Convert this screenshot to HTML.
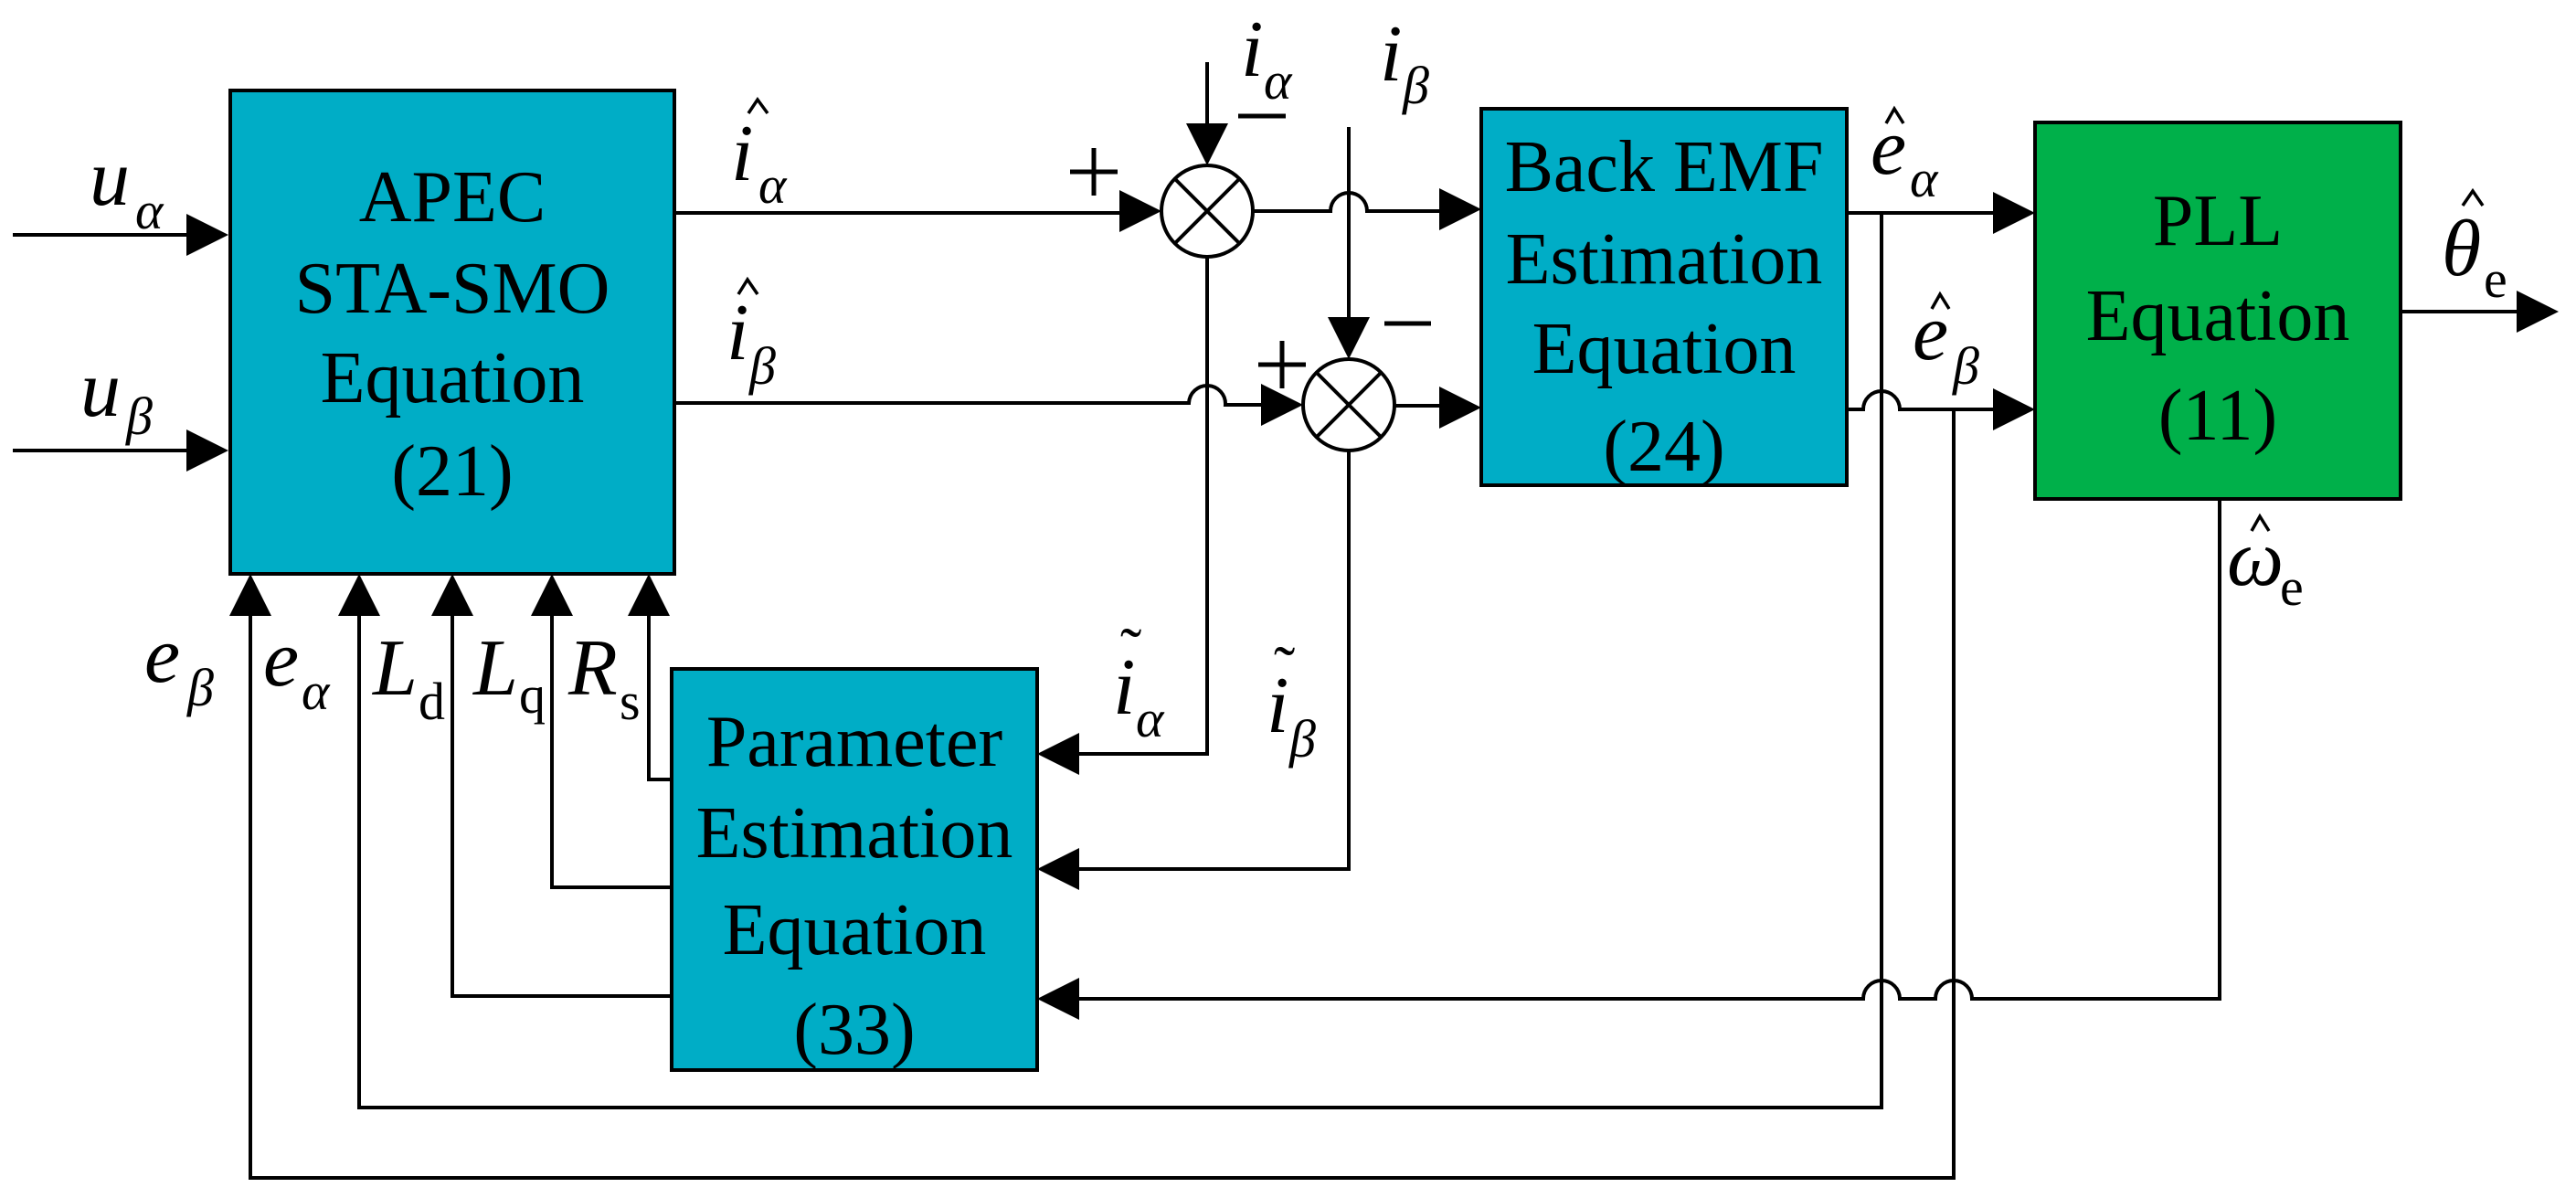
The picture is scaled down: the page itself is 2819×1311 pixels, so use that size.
<!DOCTYPE html>
<html><head><meta charset="utf-8"><style>
html,body{margin:0;padding:0;background:#fff;}
svg{display:block;}
text{font-family:"Liberation Serif",serif;fill:#000;}
.bt{font-size:80px;text-anchor:middle;}
.it{font-style:italic;font-size:88px;}
.sb{font-style:italic;font-size:58px;}
.sr{font-size:58px;}
.ac{font-size:70px;}
</style></head><body>
<svg width="2819" height="1311" viewBox="0 0 2819 1311" xmlns="http://www.w3.org/2000/svg">
<g stroke="#000" stroke-width="4" fill="none">
<rect x="252" y="99" width="486" height="529" fill="#00adc6"/>
<rect x="1621" y="119" width="400" height="412" fill="#00adc6"/>
<rect x="2227" y="134" width="400" height="412" fill="#00b04a"/>
<rect x="735" y="732" width="400" height="439" fill="#00adc6"/>
<path d="M14 257H205"/><path d="M14 493H205"/>
<path d="M738 233H1226"/>
<circle cx="1321" cy="231" r="50" fill="#fff"/>
<path d="M1286 196L1356 266M1356 196L1286 266"/>
<path d="M1321 68V136"/>
<path d="M1371 231H1456A20 20 0 0 1 1496 231H1576"/>
<path d="M1476 139V348"/>
<path d="M738 441H1301A20 20 0 0 1 1341 443H1381"/>
<circle cx="1476" cy="443" r="50" fill="#fff"/>
<path d="M1441 408L1511 478M1511 408L1441 478"/>
<path d="M1526 444H1576"/>
<path d="M1321 281V825H1180"/>
<path d="M1476 493V951H1180"/>
<path d="M2021 233H2182"/>
<path d="M2059 233V1212H393V673"/>
<path d="M2021 448H2039A20 20 0 0 1 2079 448H2182"/>
<path d="M2138 448V1289H274V673"/>
<path d="M2627 341H2755"/>
<path d="M2429 546V1093H2158A20 20 0 0 0 2118 1093H2079A20 20 0 0 0 2039 1093H1180"/>
<path d="M735 853H710V673"/>
<path d="M735 971H604V673"/>
<path d="M735 1090H495V673"/>
</g>
<g stroke="#000" stroke-width="5" fill="none">
<path d="M1171 188H1223M1197 162V214"/>
<path d="M1377 399H1429M1403 373V425"/>
<path d="M1355 127H1407"/>
<path d="M1515 354H1566"/>
</g>
<!-- hats -->
<g stroke="#000" stroke-width="3.5" fill="none" stroke-linejoin="miter">
<path d="M819 124L829 109L840 124"/>
<path d="M808 322L818 306L829 322"/>
<path d="M2064 135L2073 119L2083 135"/>
<path d="M2114 338L2123 322L2133 338"/>
<path d="M2695 225L2706 209L2717 225"/>
<path d="M2464 581L2473 565L2483 581"/>
</g>
<g fill="#000">
<polygon points="204,234 250,257 204,280"/>
<polygon points="204,470 250,493 204,516"/>
<polygon points="1225,208 1271,231 1225,254"/>
<polygon points="1575,206 1621,229 1575,252"/>
<polygon points="1380,420 1426,443 1380,466"/>
<polygon points="1575,423 1621,446 1575,469"/>
<polygon points="2181,210 2227,233 2181,256"/>
<polygon points="2181,425 2227,448 2181,471"/>
<polygon points="2754,318 2800,341 2754,364"/>
<polygon points="1298,135 1321,181 1344,135"/>
<polygon points="1453,347 1476,393 1499,347"/>
<polygon points="1181,802 1135,825 1181,848"/>
<polygon points="1181,928 1135,951 1181,974"/>
<polygon points="1181,1070 1135,1093 1181,1116"/>
<polygon points="251,674 274,628 297,674"/>
<polygon points="370,674 393,628 416,674"/>
<polygon points="472,674 495,628 518,674"/>
<polygon points="581,674 604,628 627,674"/>
<polygon points="687,674 710,628 733,674"/>
</g>
<text class="bt" x="495" y="242">APEC</text>
<text class="bt" x="495" y="342">STA-SMO</text>
<text class="bt" x="495" y="440">Equation</text>
<text class="bt" x="495" y="542">(21)</text>
<text class="bt" x="1821" y="209">Back EMF</text>
<text class="bt" x="1821" y="310">Estimation</text>
<text class="bt" x="1821" y="408">Equation</text>
<text class="bt" x="1821" y="515">(24)</text>
<text class="bt" x="2427" y="268">PLL</text>
<text class="bt" x="2427" y="372">Equation</text>
<text class="bt" x="2427" y="481">(11)</text>
<text class="bt" x="935" y="838">Parameter</text>
<text class="bt" x="935" y="938">Estimation</text>
<text class="bt" x="935" y="1044">Equation</text>
<text class="bt" x="935" y="1153">(33)</text>
<text class="it" x="98" y="224">u</text><text class="sb" x="148" y="250">α</text>
<text class="it" x="88" y="455">u</text><text class="sb" x="138" y="475">β</text>
<text class="it" x="800" y="197">i</text><text class="sb" x="830" y="222">α</text>
<text class="it" x="795" y="393">i</text><text class="sb" x="820" y="420">β</text>
<text class="it" x="1358" y="83">i</text><text class="sb" x="1383" y="108">α</text>
<text class="it" x="1510" y="88">i</text><text class="sb" x="1535" y="113">β</text>
<text class="it" x="2047" y="190">e</text><text class="sb" x="2090" y="215">α</text>
<text class="it" x="2093" y="393">e</text><text class="sb" x="2137" y="420">β</text>
<text class="it" x="2672" y="301">θ</text><text class="sr" x="2718" y="325">e</text>
<text class="it" x="2437" y="640">ω</text><text class="sr" x="2495" y="662">e</text>
<text class="it" x="158" y="746">e</text><text class="sb" x="205" y="772">β</text>
<text class="it" x="288" y="750">e</text><text class="sb" x="330" y="776">α</text>
<text class="it" x="408" y="760">L</text><text class="sr" x="458" y="787">d</text>
<text class="it" x="518" y="760">L</text><text class="sr" x="568" y="780">q</text>
<text class="it" x="622" y="760">R</text><text class="sr" x="678" y="787">s</text>
<text class="ac" x="1226" y="735">˜</text><text class="it" x="1218" y="781">i</text><text class="sb" x="1243" y="806">α</text>
<text class="ac" x="1394" y="755">˜</text><text class="it" x="1386" y="801">i</text><text class="sb" x="1411" y="828">β</text>
</svg>
</body></html>
